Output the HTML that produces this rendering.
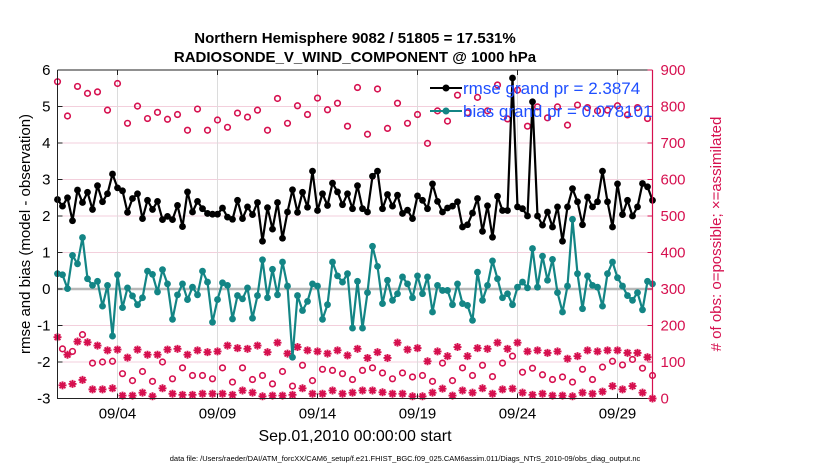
<!DOCTYPE html>
<html><head><meta charset="utf-8">
<style>
html,body{margin:0;padding:0;background:#fff;}
svg{display:block;font-family:"Liberation Sans",sans-serif;}
</style></head>
<body>
<svg id="chart" width="830" height="470" viewBox="0 0 830 470" xmlns="http://www.w3.org/2000/svg">
<rect x="0" y="0" width="830" height="470" fill="#fff"/>
<text x="355" y="43" text-anchor="middle" font-size="15" font-weight="bold">Northern Hemisphere 9082 / 51805 = 17.531%</text>
<text x="355" y="62" text-anchor="middle" font-size="15" font-weight="bold">RADIOSONDE_V_WIND_COMPONENT @ 1000 hPa</text>
<g id="grid"></g>
<g id="marks"></g>
<g id="axes"></g>
<text transform="translate(30,234) rotate(-90)" text-anchor="middle" font-size="15">rmse and bias (model - observation)</text>
<text transform="translate(721,234) rotate(-90)" text-anchor="middle" font-size="15" fill="#d6104f"># of obs: o=possible; ×=assimilated</text>
<text x="355" y="441" text-anchor="middle" font-size="16">Sep.01,2010 00:00:00 start</text>
<text x="405" y="461" text-anchor="middle" font-size="7.5">data file: /Users/raeder/DAI/ATM_forcXX/CAM6_setup/f.e21.FHIST_BGC.f09_025.CAM6assim.011/Diags_NTrS_2010-09/obs_diag_output.nc</text>
<g id="legend">
  <line x1="430" y1="88" x2="462" y2="88" stroke="#000" stroke-width="2"/>
  <circle cx="446" cy="88" r="3.5" fill="#000"/>
  <text x="463" y="94" font-size="17" fill="#1f4fff">rmse grand pr = 2.3874</text>
  <line x1="430" y1="111" x2="462" y2="111" stroke="#138585" stroke-width="2"/>
  <circle cx="446" cy="111" r="3.5" fill="#138585"/>
  <text x="463" y="117" font-size="17" fill="#1f4fff">bias grand pr = 0.078101</text>
</g>
</svg>
<script>
const rmse = [2.45,2.27,2.50,1.87,2.71,2.37,2.65,2.18,2.83,2.39,2.61,3.15,2.77,2.69,2.10,2.48,2.61,1.93,2.43,2.18,2.40,1.90,1.99,1.90,2.29,1.71,2.66,2.11,2.40,2.20,2.07,
2.05,2.05,2.22,1.97,1.91,2.43,1.93,2.25,2.04,2.37,1.31,2.23,1.64,2.37,1.39,2.11,2.72,2.10,2.65,2.24,3.23,2.15,2.61,2.29,2.90,2.66,2.31,2.61,2.20,2.83,
2.20,2.11,3.09,3.23,2.20,2.59,2.27,2.57,2.07,2.16,1.93,2.55,2.43,2.20,2.88,2.40,2.11,2.22,2.27,2.39,1.70,1.76,2.08,2.48,1.58,2.28,1.42,2.54,2.15,2.15,
5.78,2.25,2.20,2.00,5.13,2.00,1.75,2.11,1.70,2.25,1.31,2.25,2.75,2.39,1.76,2.52,2.25,2.39,3.23,2.39,1.70,2.88,2.04,2.43,2.00,2.25,2.89,2.80,2.43];
const bias = [0.42,0.39,0.01,0.92,0.69,1.41,0.28,0.10,0.21,-0.47,0.10,-1.29,0.39,-0.51,0.03,-0.19,-0.43,-0.24,0.49,0.40,-0.08,0.53,0.14,-0.83,-0.16,0.14,-0.29,0.05,-0.16,0.49,0.19,
-0.91,-0.29,0.17,0.10,-0.82,-0.18,-0.27,0.03,-0.80,-0.18,0.80,-0.24,0.54,-0.16,0.74,0.08,-1.87,-0.18,-0.59,-0.34,0.14,0.08,-0.83,-0.43,0.74,0.36,0.19,0.42,-1.07,0.21,
-1.07,-0.10,1.17,0.62,-0.40,0.24,-0.31,-0.13,0.33,0.14,-0.24,0.36,-0.13,0.33,-0.63,0.10,-0.04,-0.04,-0.43,0.14,-0.40,-0.45,-0.86,0.46,-0.31,0.10,0.77,0.28,-0.24,-0.13,
-0.43,0.05,0.19,0.03,1.11,0.05,0.90,0.24,0.81,-0.10,-0.63,0.08,1.91,0.42,-0.54,0.36,0.10,0.05,-0.47,0.42,0.74,0.31,0.08,-0.18,-0.31,-0.10,-0.57,0.21,0.14];
const possible = [868,136,774,129,855,175,836,97,840,100,790,102,863,68,754,49,801,74,767,47,784,100,765,54,778,84,735,63,793,63,
735,54,763,84,743,45,782,84,771,52,790,63,735,40,822,74,754,34,802,91,778,49,823,80,791,77,809,68,746,52,
852,77,724,84,848,70,740,54,809,70,754,59,778,63,699,47,788,97,760,49,831,84,783,63,825,91,788,60,859,97,
766,116,845,72,746,83,799,65,769,52,799,59,749,45,804,80,797,52,788,86,790,102,802,92,777,107,797,83,767,63];
const assimilated = [168,36,120,40,156,51,154,25,145,25,132,28,134,8,112,8,134,16,120,6,120,28,134,13,136,10,120,10,132,13,
127,13,129,13,145,10,138,22,136,16,145,6,127,8,153,8,123,10,141,28,132,13,129,13,123,22,132,13,118,16,
136,22,111,22,127,17,111,13,153,13,134,6,138,6,102,16,129,27,116,8,141,22,116,16,138,28,136,13,153,25,
136,27,153,16,129,10,132,13,125,8,129,8,109,6,116,16,132,13,129,19,132,34,132,25,125,34,125,16,113,0];
const leftTicks = [-3,-2,-1,0,1,2,3,4,5,6];
const rightTicks = [0,100,200,300,400,500,600,700,800,900];
const dateTicks = [3,8,13,18,23,28];
const dateLabels = ["09/04","09/09","09/14","09/19","09/24","09/29"];
const stepDays = 0.25;

const NS="http://www.w3.org/2000/svg";
const PL=57.5, PR=652.5, PT=70, PB=398.5;
const xs = d => PL + d*20;
const yl = v => PT + (6-v)*(PB-PT)/9;
const yr = c => PB - c*(PB-PT)/900;
function mk(tag, attrs, parent){const e=document.createElementNS(NS,tag);for(const k in attrs)e.setAttribute(k,attrs[k]);parent.appendChild(e);return e;}
const grid=document.getElementById('grid'), marks=document.getElementById('marks'), axes=document.getElementById('axes');
const RED="#d6104f", TEAL="#138585";

rightTicks.forEach(c=>{
  const l=mk('line',{x1:PL,x2:PR,y1:yr(c),y2:yr(c),stroke:'#f3cfdc','stroke-width':1},grid);
  
  
});
dateTicks.forEach(d=>{
  const l=mk('line',{x1:xs(d),x2:xs(d),y1:PT,y2:PB,stroke:'#dcdcdc','stroke-width':1},grid);
  
  
});
const zl=mk('line',{x1:PL,x2:PR,y1:yl(0),y2:yl(0),stroke:'#b8b8b8','stroke-width':2.5},grid);



possible.forEach((c,i)=>{
  const e=mk('circle',{cx:xs(i*stepDays),cy:yr(c),r:2.8,fill:'none',stroke:RED,'stroke-width':1.6},marks);
  
  
});
assimilated.forEach((c,i)=>{
  const x=xs(i*stepDays), y=yr(c), s=4, d=2.9;
  const g=mk('path',{d:`M${x-s},${y}H${x+s}M${x},${y-s}V${y+s}M${x-d},${y-d}L${x+d},${y+d}M${x-d},${y+d}L${x+d},${y-d}`,stroke:RED,'stroke-width':1.9,fill:'none'},marks);
  
  
});
function series(arr,color,name){
  const pts=arr.map((v,i)=>xs(i*stepDays).toFixed(1)+','+yl(v).toFixed(1)).join(' ');
  const pl=mk('polyline',{points:pts,fill:'none',stroke:color,'stroke-width':2.2,'stroke-linejoin':'round'},marks);
  
  
  arr.forEach((v,i)=>{
    const c=mk('circle',{cx:xs(i*stepDays),cy:yl(v),r:3.4,fill:color},marks);
    
    
  });
}
series(bias,TEAL,'bias');
series(rmse,'#000','rmse');

const fr=mk('path',{d:`M${PL},${PT}H${PR}M${PL},${PT}V${PB}H${PR}`,stroke:'#222','stroke-width':1,fill:'none'},axes);


const ra=mk('line',{x1:PR,x2:PR,y1:PT,y2:PB,stroke:RED,'stroke-width':1.2},axes);


leftTicks.forEach(v=>{
  mk('line',{x1:PL,x2:PL+5,y1:yl(v),y2:yl(v),stroke:'#222'},axes);
  const t=mk('text',{x:PL-7,y:yl(v)+5,'text-anchor':'end','font-size':15},axes);
  t.textContent=v;
  
  
});
rightTicks.forEach(c=>{
  mk('line',{x1:PR-5,x2:PR,y1:yr(c),y2:yr(c),stroke:RED},axes);
  const t=mk('text',{x:PR+8,y:yr(c)+5,'font-size':15,fill:RED},axes);
  t.textContent=c;
  
  
});
dateTicks.forEach((d,k)=>{
  mk('line',{x1:xs(d),x2:xs(d),y1:PB-5,y2:PB,stroke:'#222'},axes);
  mk('line',{x1:xs(d),x2:xs(d),y1:PT,y2:PT+5,stroke:'#222'},axes);
  const t=mk('text',{x:xs(d),y:PB+20,'text-anchor':'middle','font-size':15},axes);
  t.textContent=dateLabels[k];
  
  
});
</script>
</body></html>
